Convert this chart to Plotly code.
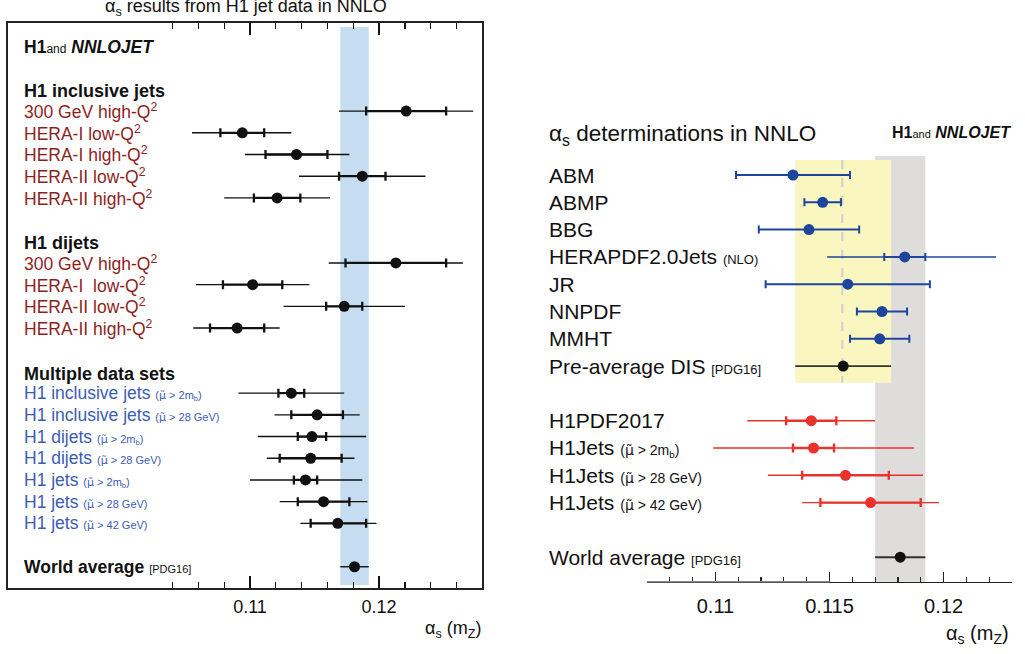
import plotly.graph_objects as go

FONT = "Liberation Sans, Arial, Helvetica, sans-serif"
W, H = 1025, 654


def SX(x):
    return x / W


def SY(y):
    return (H - y) / H


# ---------------- Left panel data ----------------
MU = "<span style='font-family:DejaVu Sans'>μ̃</span>"
MU2 = "(" + MU + " > 2m<sub>b</sub>)"
MU28 = "(" + MU + " > 28 GeV)"
MU42 = "(" + MU + " > 42 GeV)"

L_labels = [
    "300 GeV high-Q<sup>2</sup>", "HERA-I low-Q<sup>2</sup>", "HERA-I high-Q<sup>2</sup>",
    "HERA-II low-Q<sup>2</sup>", "HERA-II high-Q<sup>2</sup>",
    "300 GeV high-Q<sup>2</sup>", "HERA-I  low-Q<sup>2</sup>", "HERA-II low-Q<sup>2</sup>",
    "HERA-II high-Q<sup>2</sup>",
    "H1 inclusive jets", "H1 inclusive jets", "H1 dijets", "H1 dijets",
    "H1 jets", "H1 jets", "H1 jets",
    "World average",
]
L_notes = ["", "", "", "", "", "", "", "", "",
           MU2, MU28, MU2, MU28, MU2, MU28, MU42, "[PDG16]"]
L_groups = ["red"] * 9 + ["blue"] * 7 + ["black"]
L_rows = [1, 2, 3, 4, 5, 8, 9, 10, 11, 14, 15, 16, 17, 18, 19, 20, 22]
L_val = [0.1221, 0.1094, 0.1136, 0.1187, 0.1121,
         0.1213, 0.1102, 0.1173, 0.1090,
         0.1132, 0.1152, 0.1148, 0.1147, 0.1143, 0.1157, 0.1168,
         0.1181]
L_in_lo = [0.0031, 0.0017, 0.0024, 0.0018, 0.0018,
           0.0039, 0.0023, 0.0014, 0.0021,
           0.0010, 0.0020, 0.0011, 0.0024, 0.0009, 0.0020, 0.0021,
           0.0]
L_in_hi = [0.0031, 0.0017, 0.0024, 0.0018, 0.0018,
           0.0039, 0.0023, 0.0014, 0.0021,
           0.0010, 0.0020, 0.0011, 0.0024, 0.0009, 0.0020, 0.0022,
           0.0]
L_out_lo = [0.0052, 0.0039, 0.0040, 0.0049, 0.0041,
            0.0052, 0.0044, 0.0047, 0.0034,
            0.0041, 0.0033, 0.0042, 0.0034, 0.0043, 0.0034, 0.0029,
            0.0011]
L_out_hi = [0.0052, 0.0038, 0.0041, 0.0049, 0.0041,
            0.0052, 0.0044, 0.0047, 0.0033,
            0.0041, 0.0033, 0.0042, 0.0034, 0.0044, 0.0034, 0.0030,
            0.0011]
L_headers = ["H1 inclusive jets", "H1 dijets", "Multiple data sets"]
L_header_rows = [0.08, 7.08, 13.1]
L_band = [0.1170, 0.1192]
L_ticks = [0.11, 0.12]
L_tick_text = ["0.11", "0.12"]
L_minor = [0.104, 0.106, 0.108, 0.112, 0.114, 0.116, 0.118, 0.122, 0.124, 0.126]

# ---------------- Right panel data ----------------
R_blue_labels = ["ABM", "ABMP", "BBG", "JR", "NNPDF", "MMHT"]
R_blue_rows = [0, 1, 2, 4, 5, 6]
R_blue_val = [0.1134, 0.1147, 0.1141, 0.1158, 0.1173, 0.1172]
R_blue_err = [0.0025, 0.0008, 0.0022, 0.0036, 0.0011, 0.0013]

R_hera_label = "HERAPDF2.0Jets"
R_hera_row = [3]
R_hera_val = [0.1183]
R_hera_in = [0.0009]
R_hera_out_lo = [0.0034]
R_hera_out_hi = [0.0040]

R_dis_label = "Pre-average DIS"
R_dis_row = [7]
R_dis_val = [0.1156]
R_dis_err = [0.0021]

R_red_labels = ["H1PDF2017", "H1Jets", "H1Jets", "H1Jets"]
R_red_notes = ["", MU2, MU28, MU42]
R_red_rows = [9, 10, 11, 12]
R_red_val = [0.1142, 0.1143, 0.1157, 0.1168]
R_red_in = [0.0011, 0.0009, 0.0019, 0.0022]
R_red_out = [0.0028, 0.0044, 0.0034, 0.0030]

R_wa_label = "World average"
R_wa_row = [14]
R_wa_val = [0.1181]
R_wa_err = [0.0011]

R_yellow = [0.1135, 0.1177]
R_yellow_rows = [-0.549, 7.608]
R_dashed = 0.11556
R_gray = [0.1170, 0.1192]
R_ticks = [0.11, 0.115, 0.12]
R_tick_text = ["0.11", "0.115", "0.12"]
R_minor = [0.107, 0.108, 0.109, 0.111, 0.112, 0.113, 0.114, 0.116, 0.117,
           0.118, 0.119, 0.121, 0.122, 0.123]

BLACK = "#111111"
DARKRED = "#8e1f1f"
LBLUE = "#3c5cb4"
BLUE = "#1d459c"
RED = "#e8322b"

fig = go.Figure()

# ---- left traces
fig.add_trace(go.Scatter(
    x=L_val, y=L_rows, mode="markers", xaxis="x", yaxis="y",
    marker=dict(size=0.1, color=BLACK),
    error_x=dict(type="data", symmetric=False, array=L_out_hi, arrayminus=L_out_lo,
                 color=BLACK, thickness=1.4, width=0),
    hoverinfo="skip", showlegend=False))
fig.add_trace(go.Scatter(
    x=L_val, y=L_rows, mode="markers", xaxis="x", yaxis="y",
    marker=dict(size=11, color=BLACK),
    error_x=dict(type="data", symmetric=False, array=L_in_hi, arrayminus=L_in_lo,
                 color=BLACK, thickness=2.3, width=4.5),
    hoverinfo="skip", showlegend=False))

# ---- right traces
fig.add_trace(go.Scatter(
    x=R_blue_val, y=R_blue_rows, mode="markers", xaxis="x2", yaxis="y2",
    marker=dict(size=11, color=BLUE),
    error_x=dict(type="data", array=R_blue_err, color=BLUE, thickness=2, width=4),
    hoverinfo="skip", showlegend=False))
fig.add_trace(go.Scatter(
    x=R_hera_val, y=R_hera_row, mode="markers", xaxis="x2", yaxis="y2",
    marker=dict(size=0.1, color=BLUE),
    error_x=dict(type="data", symmetric=False, array=R_hera_out_hi, arrayminus=R_hera_out_lo,
                 color=BLUE, thickness=1.5, width=0),
    hoverinfo="skip", showlegend=False))
fig.add_trace(go.Scatter(
    x=R_hera_val, y=R_hera_row, mode="markers", xaxis="x2", yaxis="y2",
    marker=dict(size=11, color=BLUE),
    error_x=dict(type="data", array=R_hera_in, color=BLUE, thickness=2, width=4),
    hoverinfo="skip", showlegend=False))
fig.add_trace(go.Scatter(
    x=R_dis_val, y=R_dis_row, mode="markers", xaxis="x2", yaxis="y2",
    marker=dict(size=11, color=BLACK),
    error_x=dict(type="data", array=R_dis_err, color="#333333", thickness=1.8, width=0),
    hoverinfo="skip", showlegend=False))
fig.add_trace(go.Scatter(
    x=R_red_val, y=R_red_rows, mode="markers", xaxis="x2", yaxis="y2",
    marker=dict(size=0.1, color=RED),
    error_x=dict(type="data", array=R_red_out, color=RED, thickness=1.4, width=0),
    hoverinfo="skip", showlegend=False))
fig.add_trace(go.Scatter(
    x=R_red_val, y=R_red_rows, mode="markers", xaxis="x2", yaxis="y2",
    marker=dict(size=11, color=RED),
    error_x=dict(type="data", array=R_red_in, color=RED, thickness=2.4, width=4.5),
    hoverinfo="skip", showlegend=False))
fig.add_trace(go.Scatter(
    x=R_wa_val, y=R_wa_row, mode="markers", xaxis="x2", yaxis="y2",
    marker=dict(size=11, color=BLACK),
    error_x=dict(type="data", array=R_wa_err, color="#333333", thickness=2, width=0),
    hoverinfo="skip", showlegend=False))

# ---- shapes
shapes = [
    dict(type="rect", xref="x", yref="y", x0=L_band[0], x1=L_band[1], y0=-2.87, y1=22.84,
         fillcolor="#c6dcf1", line=dict(width=0), layer="below"),
    dict(type="rect", xref="x2", yref="y2", x0=R_yellow[0], x1=R_yellow[1],
         y0=R_yellow_rows[0], y1=R_yellow_rows[1],
         fillcolor="#faf6c0", line=dict(width=0), layer="below"),
    dict(type="line", xref="x2", yref="y2", x0=R_dashed, x1=R_dashed,
         y0=R_yellow_rows[0], y1=R_yellow_rows[1],
         line=dict(color="#cfcfcf", width=2, dash="dash"), layer="below"),
    dict(type="rect", xref="x2", yref="y2 domain", x0=R_gray[0], x1=R_gray[1], y0=0, y1=1,
         fillcolor="rgba(200,198,196,0.6)", line=dict(width=0), layer="below"),
    dict(type="line", xref="x2", yref="y2 domain", x0=0.107, x1=0.115, y0=0, y1=0,
         line=dict(color="#8a8a8a", width=1.6), layer="above"),
]

# ---- annotations
ann = []
LX = SX(22)
for lab, note, grp, r in zip(L_labels, L_notes, L_groups, L_rows):
    col = {"red": DARKRED, "blue": LBLUE, "black": BLACK}[grp]
    txt = "<b>" + lab + "</b>" if grp == "black" else lab
    if note:
        txt += " <span style='font-size:11px'>" + note + "</span>"
    ann.append(dict(x=LX, y=r, xref="paper", yref="y", text=txt, showarrow=False,
                    xanchor="left", yanchor="middle",
                    font=dict(family=FONT, size=17.5, color=col)))
for h, r in zip(L_headers, L_header_rows):
    ann.append(dict(x=LX, y=r, xref="paper", yref="y", text="<b>" + h + "</b>",
                    showarrow=False, xanchor="left", yanchor="middle",
                    font=dict(family=FONT, size=18, color=BLACK)))
ann.append(dict(x=LX, y=-1.95, xref="paper", yref="y",
                text="<b>H1</b><span style='font-size:12px'>and</span> <b><i>NNLOJET</i></b>",
                showarrow=False, xanchor="left", yanchor="middle",
                font=dict(family=FONT, size=17.5, color=BLACK)))
ann.append(dict(x=SX(246), y=SY(7), xref="paper", yref="paper",
                text="α<sub>s</sub> results from H1 jet data in NNLO",
                showarrow=False, xanchor="center", yanchor="middle",
                font=dict(family=FONT, size=18, color=BLACK)))
ann.append(dict(x=SX(483), y=SY(629), xref="paper", yref="paper",
                text="α<sub>s</sub> (m<sub>Z</sub>)", showarrow=False,
                xanchor="right", yanchor="middle",
                font=dict(family=FONT, size=18, color=BLACK)))

RX = SX(547)
RS = 21
for lab, r in zip(R_blue_labels, R_blue_rows):
    ann.append(dict(x=RX, y=r, xref="paper", yref="y2", text=lab, showarrow=False,
                    xanchor="left", yanchor="middle",
                    font=dict(family=FONT, size=RS, color=BLACK)))
ann.append(dict(x=RX, y=R_hera_row[0], xref="paper", yref="y2",
                text=R_hera_label + " <span style='font-size:13px'>(NLO)</span>",
                showarrow=False, xanchor="left", yanchor="middle",
                font=dict(family=FONT, size=RS, color=BLACK)))
ann.append(dict(x=RX, y=R_dis_row[0], xref="paper", yref="y2",
                text=R_dis_label + " <span style='font-size:13px'>[PDG16]</span>",
                showarrow=False, xanchor="left", yanchor="middle",
                font=dict(family=FONT, size=RS, color=BLACK)))
for lab, note, r in zip(R_red_labels, R_red_notes, R_red_rows):
    txt = lab + (" <span style='font-size:14px'>" + note + "</span>" if note else "")
    ann.append(dict(x=RX, y=r, xref="paper", yref="y2", text=txt, showarrow=False,
                    xanchor="left", yanchor="middle",
                    font=dict(family=FONT, size=RS, color=BLACK)))
ann.append(dict(x=RX, y=R_wa_row[0], xref="paper", yref="y2",
                text=R_wa_label + " <span style='font-size:13px'>[PDG16]</span>",
                showarrow=False, xanchor="left", yanchor="middle",
                font=dict(family=FONT, size=RS, color=BLACK)))
ann.append(dict(x=RX, y=SY(135), xref="paper", yref="paper",
                text="α<sub>s</sub> determinations in NNLO", showarrow=False,
                xanchor="left", yanchor="middle",
                font=dict(family=FONT, size=22.5, color=BLACK)))
ann.append(dict(x=SX(1013), y=SY(132), xref="paper", yref="paper",
                text="<b>H1</b><span style='font-size:11px'>and</span> <b><i>NNLOJET</i></b>",
                showarrow=False, xanchor="right", yanchor="middle",
                font=dict(family=FONT, size=16, color=BLACK)))
ann.append(dict(x=SX(1011), y=SY(634), xref="paper", yref="paper",
                text="α<sub>s</sub> (m<sub>Z</sub>)", showarrow=False,
                xanchor="right", yanchor="middle",
                font=dict(family=FONT, size=20, color=BLACK)))

fig.update_layout(
    width=W, height=H,
    margin=dict(l=0, r=0, t=0, b=0),
    paper_bgcolor="white", plot_bgcolor="rgba(0,0,0,0)",
    showlegend=False,
    font=dict(family=FONT, color=BLACK),
    shapes=shapes, annotations=ann,
    xaxis=dict(domain=[SX(8), SX(482)], range=[0.09124, 0.12798],
               anchor="y", tickmode="array", tickvals=L_ticks,
               ticktext=L_tick_text, ticks="inside", ticklen=12, tickwidth=1.6,
               tickcolor=BLACK, mirror="allticks", showline=True, linewidth=2,
               linecolor="#222222", showgrid=False, zeroline=False,
               tickfont=dict(family=FONT, size=18, color=BLACK), ticklabelstandoff=1,
               minor=dict(tickmode="array", tickvals=L_minor, ticks="inside",
                          ticklen=6, tickwidth=1.3, tickcolor=BLACK, showgrid=False)),
    yaxis=dict(domain=[SY(588), SY(23)], range=[22.98, -3.06],
               anchor="x", showline=True, mirror=True, linewidth=2, linecolor="#222222",
               showticklabels=False, ticks="", showgrid=False, zeroline=False),
    xaxis2=dict(domain=[SX(647), SX(1012)], range=[0.107, 0.123],
                anchor="y2", tickmode="array", tickvals=R_ticks, ticktext=R_tick_text,
                ticks="inside", ticklen=10, tickwidth=1.5, tickcolor="#222222",
                showline=True, linewidth=1.6, linecolor="#222222",
                showgrid=False, zeroline=False,
                tickfont=dict(family=FONT, size=20, color=BLACK), ticklabelstandoff=6,
                minor=dict(tickmode="array", tickvals=R_minor, ticks="inside",
                           ticklen=5, tickwidth=1.2, tickcolor="#222222", showgrid=False)),
    yaxis2=dict(domain=[SY(581.7), SY(156)], range=[14.898, -0.696],
                anchor="x2", visible=False, showgrid=False, zeroline=False),
)

fig.write_html("out.html",
               config={"displayModeBar": False, "staticPlot": True},
               post_script="document.body.style.margin='0px';"
                           "document.body.style.overflow='hidden';")
